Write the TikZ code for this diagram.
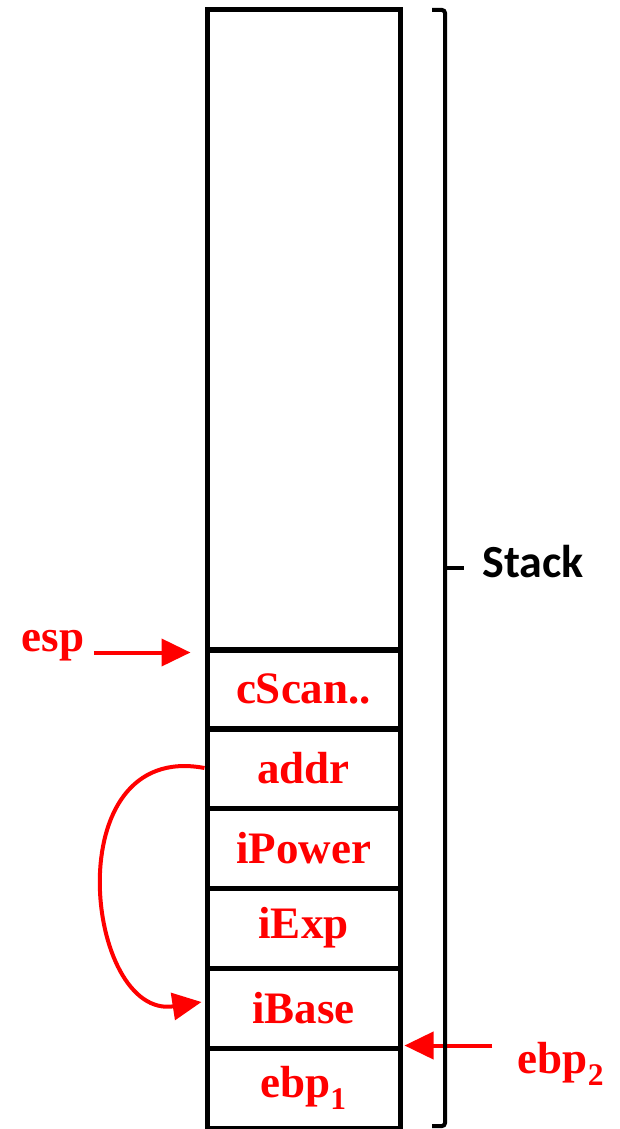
\documentclass[tikz,border=0pt]{standalone}
\usepackage{fontspec}
\setmainfont{Liberation Serif}
\newfontfamily\labelfont{Carlito}
\usetikzlibrary{arrows.meta}

\begin{document}
\begin{tikzpicture}
[x=1pt,y=-1pt,%
  cellDecorate/.style={draw,line width=5pt,minimum width=193pt,inner sep=0pt},%
  wordDecorate/.style={text=red,font=\fontsize{45}{48}\selectfont\bfseries},%
  pointerDecorate/.style={draw=red,line width=4pt,-{Triangle[length=29pt,width=27pt]}},%
  braceDecorate/.style={line width=4pt,rounded corners=3pt}]
\useasboundingbox (0,0) rectangle (619,1129);
%% stack cells, top one stays empty
\node[cellDecorate,minimum height=640pt] (free) at (303.5,330) {};
\foreach \cellname/\y/\word in {
  cscan/689/cScan.., addr/768/addr, ipower/848/iPower,
  iexp/928/iExp, ibase/1008/iBase, ebpone/1088/ebp\textsubscript{1}}
{
  \node[cellDecorate,wordDecorate,minimum height=80pt] (\cellname) at (303.5,\y) {\word};
}
%% register labels
\node[wordDecorate] (esp) at (53,646) {esp};
\node[wordDecorate] (ebptwo) at (561,1064) {ebp\textsubscript{2}};
%% pointers
\draw[pointerDecorate] ([xshift=6pt]esp.east |- free.south west) -- ([xshift=-14pt]free.south west);
\draw[pointerDecorate] ([xshift=-22pt]ebptwo.west |- ebpone.north east) -- ([xshift=2pt]ebpone.north east);
\draw[pointerDecorate] (addr.west) .. controls (55,740) and (85,1020) .. ([xshift=-3pt,yshift=6pt]ibase.west);
%% brace and its label
\draw[braceDecorate] (432,10) -| (445,1126) -- (432,1126);
\node[font=\labelfont\fontsize{46}{48}\selectfont\bfseries] (stack) at (533,562) {Stack};
\draw[braceDecorate,rounded corners=0pt] (445,568) -- ([xshift=-15pt]stack.west |- 0,568);
\end{tikzpicture}
\end{document}
